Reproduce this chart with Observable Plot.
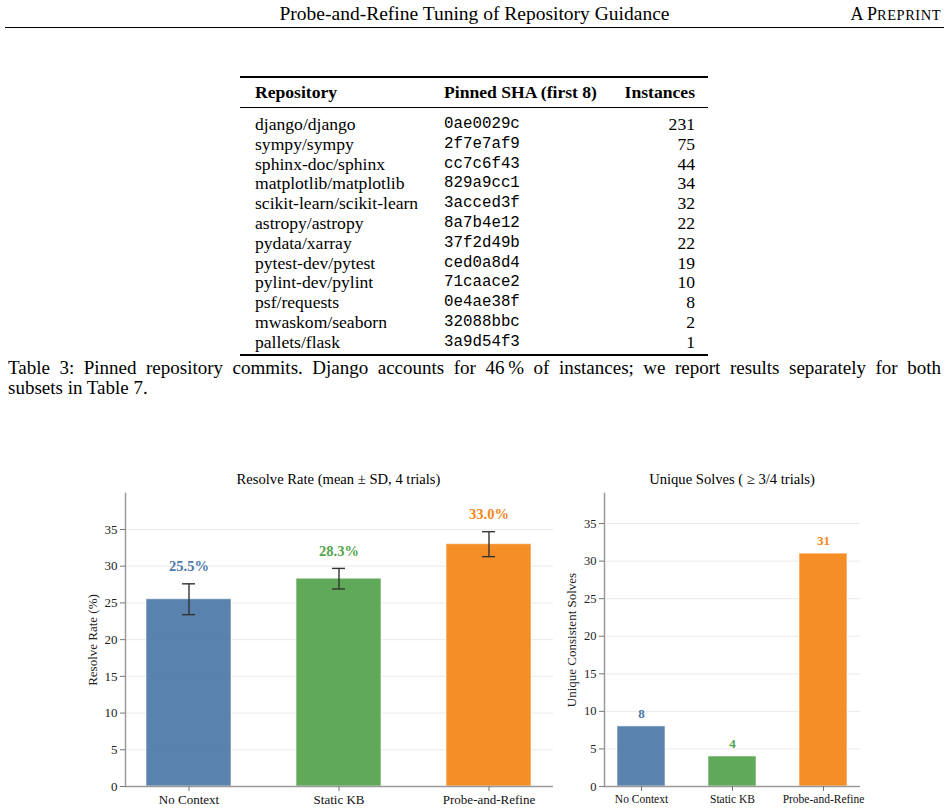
<!DOCTYPE html>
<html><head><meta charset="utf-8">
<script src="https://cdn.jsdelivr.net/npm/d3@7"></script>
<script src="https://cdn.jsdelivr.net/npm/@observablehq/plot@0.6"></script>
<style>
body{margin:0;background:#fff;font-family:'Liberation Serif',serif;}
#page{position:relative;width:949px;height:810px;color:#000;overflow:hidden;}
.abs{position:absolute;white-space:nowrap;}
</style></head><body><div id="page"></div>
<script>
// ---- data ----
const repos = ["django/django","sympy/sympy","sphinx-doc/sphinx","matplotlib/matplotlib","scikit-learn/scikit-learn","astropy/astropy","pydata/xarray","pytest-dev/pytest","pylint-dev/pylint","psf/requests","mwaskom/seaborn","pallets/flask"];
const shas = ["0ae0029c","2f7e7af9","cc7c6f43","829a9cc1","3acced3f","8a7b4e12","37f2d49b","ced0a8d4","71caace2","0e4ae38f","32088bbc","3a9d54f3"];
const instances = [231,75,44,34,32,22,22,19,10,8,2,1];
const conditions = ["No Context","Static KB","Probe-and-Refine"];
const resolveMean = [25.5, 28.3, 33.0];
const resolveSD = [2.1, 1.4, 1.7];
const uniqueSolves = [8, 4, 31];
const colors = ["#4c78a8","#54a24b","#f58518"];
const yTicks = [0,5,10,15,20,25,30,35];

const SERIF = "'Liberation Serif', 'Times New Roman', serif";
const MONO = "'Liberation Mono', 'DejaVu Sans Mono', monospace";
const page = document.getElementById("page");
function addText(txt, css){const d=document.createElement("div");d.className="abs";d.textContent=txt;d.style.fontFamily=SERIF;Object.assign(d.style,css);page.appendChild(d);return d;}
function addRule(x,y,w,h){const d=document.createElement("div");d.className="abs";Object.assign(d.style,{left:x+"px",top:y+"px",width:w+"px",height:h+"px",background:"#000"});page.appendChild(d);}

// ---- running header ----
addText("Probe-and-Refine Tuning of Repository Guidance",{left:"0px",width:"949px",textAlign:"center",top:"2px",fontSize:"19.5px",lineHeight:"24px"});
const pre = addText("",{right:"8px",top:"2px",fontSize:"18px",lineHeight:"24px"});
pre.innerHTML = 'A P<span style="font-size:14.5px;letter-spacing:0.5px;text-transform:uppercase">reprint</span>';
addRule(5,26.5,939,1.3);

// ---- table ----
const T = {left:240, right:708, c1:255, c2:444, c3r:695, headY:92, row0:124, step:19.8, fs:17.6};
addRule(T.left,76.3,T.right-T.left,1.5);
addRule(T.left,106.5,T.right-T.left,1);
addRule(T.left,354.3,T.right-T.left,1.5);
const hcss = {fontWeight:"bold",fontSize:T.fs+"px",lineHeight:"20px",top:(T.headY-10)+"px"};
addText("Repository",{...hcss,left:T.c1+"px"});
addText("Pinned SHA (first 8)",{...hcss,left:T.c2+"px"});
addText("Instances",{...hcss,right:(949-T.c3r)+"px"});
repos.forEach((r,i)=>{
  const top=(T.row0+i*T.step-10)+"px";
  addText(r,{left:T.c1+"px",top,fontSize:T.fs+"px",lineHeight:"20px"});
  addText(shas[i],{left:T.c2+"px",top,fontSize:"15.8px",lineHeight:"20px",fontFamily:MONO});
  addText(String(instances[i]),{right:(949-T.c3r)+"px",top,fontSize:T.fs+"px",lineHeight:"20px"});
});

// ---- caption ----
const capText = "Table 3: Pinned repository commits.  Django accounts for 46\u2009% of instances; we report results separately for both";
const probe = addText(capText,{left:"8px",top:"358px",fontSize:"19px",lineHeight:"20px",visibility:"hidden"});
const natW = probe.getBoundingClientRect().width;
const capFs = natW > 925 ? 19*925/natW : 19;
probe.remove();
addText(capText,{left:"8px",width:"933px",top:"358px",fontSize:capFs+"px",lineHeight:"20px",whiteSpace:"normal",textAlign:"justify",textAlignLast:"justify"});
addText("subsets in Table 7.",{left:"8px",top:"378px",fontSize:capFs+"px",lineHeight:"20px"});

// ---- charts ----
function barChart(o){
  const data = conditions.map((c,i)=>({cond:c, v:o.values[i], sd:o.sd?o.sd[i]:0}));
  const marks = [
    Plot.gridY(yTicks,{stroke:"#e4e4e4",strokeOpacity:1,strokeWidth:0.8}),
    Plot.barY(data,{x:"cond",y:"v",fill:"cond",fillOpacity:0.93,stroke:"#fff",strokeOpacity:0.6,strokeWidth:1})
  ];
  if(o.sd){
    const bw = o.step*(1-o.pInner), inset=(bw-o.cap)/2;
    marks.push(
      Plot.ruleX(data,{x:"cond",y1:d=>d.v-d.sd,y2:d=>d.v+d.sd,stroke:"#333",strokeWidth:1.4}),
      Plot.tickY(data,{x:"cond",y:d=>d.v-d.sd,stroke:"#333",strokeWidth:1.4,insetLeft:inset,insetRight:inset}),
      Plot.tickY(data,{x:"cond",y:d=>d.v+d.sd,stroke:"#333",strokeWidth:1.4,insetLeft:inset,insetRight:inset})
    );
  }
  marks.push(
    Plot.text(data,{x:"cond",y:d=>d.v+d.sd,text:o.fmt,dy:o.labelDy,fill:"cond",fontWeight:"bold",fontSize:o.valueFont}),
    Plot.ruleY([0],{stroke:"#9a9a9a",strokeWidth:1.5}),
    Plot.frame({anchor:"left",stroke:"#9a9a9a",strokeWidth:1.5}),
    Plot.axisY(yTicks,{tickSize:5,tickPadding:3,fontSize:o.yFont,stroke:"#777",fill:"#222",label:null}),
    Plot.text([o.yLabel],{frameAnchor:"left",textAnchor:"middle",rotate:-90,dx:-o.labelOffset,fontSize:o.yLabelFont,fill:"#222"}),
    Plot.axisX({tickSize:5,tickPadding:3,fontSize:o.xFont,stroke:"#777",fill:"#111",label:null})
  );
  const svg = Plot.plot({
    width:o.width,height:o.height,
    marginLeft:o.mL,marginRight:o.mR,marginTop:o.mT,marginBottom:o.mB,
    x:{domain:conditions,paddingInner:o.pInner,paddingOuter:o.pOuter},
    y:{domain:o.yDomain},
    color:{domain:conditions,range:colors},
    style:{fontFamily:SERIF,background:"transparent",overflow:"visible"},
    marks
  });
  svg.style.position="absolute";svg.style.left=o.left+"px";svg.style.top=o.top+"px";
  page.appendChild(svg);
  addText(o.title,{left:(o.titleX-200)+"px",width:"400px",textAlign:"center",top:(o.titleY-9)+"px",fontSize:"14.6px",lineHeight:"18px"});
}

barChart({values:resolveMean,sd:resolveSD,fmt:d=>d3.format(".1f")(d.v)+"%",
  left:60,top:470,width:500,height:340,mL:65,mR:7,mT:23,mB:24,
  step:150,pInner:0.433,pOuter:0.143,cap:13,yDomain:[0,39.9],
  labelDy:-17,valueFont:14.5,yFont:13,xFont:13,yLabel:"Resolve Rate (%)",labelOffset:33,yLabelFont:13,
  title:"Resolve Rate (mean \u00b1 SD, 4 trials)",titleX:338.5,titleY:479});

barChart({values:uniqueSolves,sd:null,fmt:d=>String(d.v),
  left:555,top:470,width:394,height:340,mL:49,mR:89,mT:23,mB:24,
  step:91,pInner:0.473,pOuter:0.143,cap:0,yDomain:[0,39],
  labelDy:-13,valueFont:13,yFont:12.5,xFont:11.5,yLabel:"Unique Consistent Solves",labelOffset:33,yLabelFont:13,
  title:"Unique Solves ( \u2265 3/4 trials)",titleX:732,titleY:479});
</script></body></html>
